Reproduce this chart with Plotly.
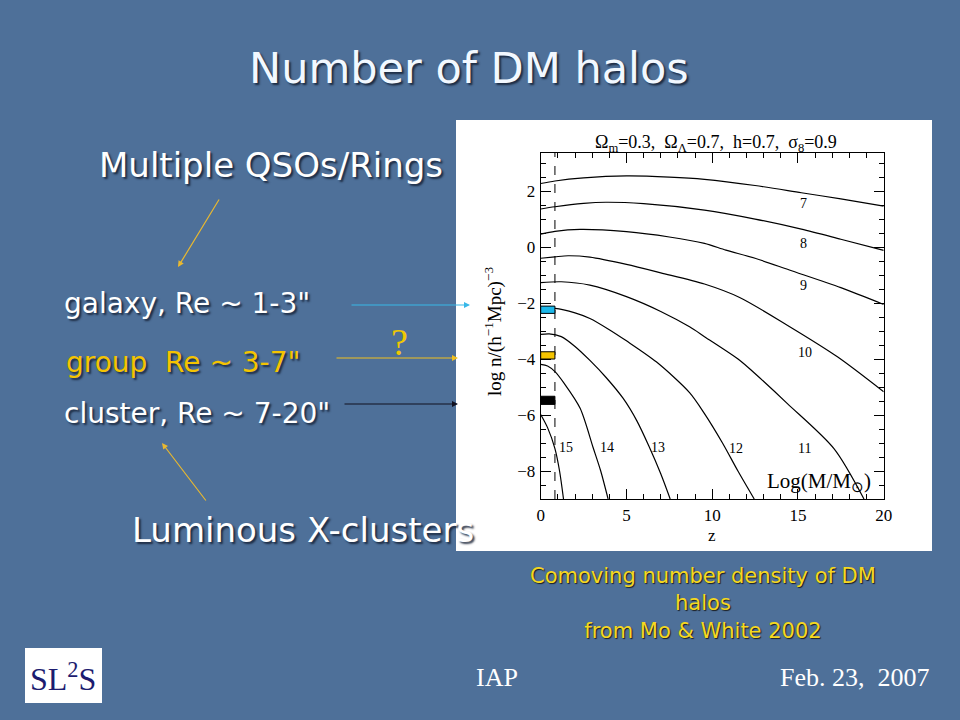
import plotly.graph_objects as go

# ---------------- data ----------------
masses = ["7", "8", "9", "10", "11", "12", "13", "14", "15"]

z_m7 = [0, 0.83, 2.5, 5, 7.5, 9.55, 12.5, 15.2, 17.5, 20]
n_m7 = [2.27, 2.36, 2.47, 2.54, 2.5, 2.42, 2.2, 1.94, 1.72, 1.46]

z_m8 = [0, 0.83, 2.5, 3.8, 6, 9.55, 12.5, 15.2, 17.5, 20]
n_m8 = [1.36, 1.44, 1.56, 1.6, 1.55, 1.32, 1.0, 0.64, 0.28, -0.12]

z_m9 = [0, 0.83, 2.3, 5, 7.5, 9.55, 10.8, 12.5, 14.5, 17.5, 20]
n_m9 = [0.46, 0.56, 0.63, 0.55, 0.36, 0.13, -0.11, -0.4, -0.82, -1.45, -2.05]

z_m10 = [0, 0.83, 1.6, 2.87, 5, 7, 9.55, 11.6, 14.4, 17.3, 20]
n_m10 = [-0.4, -0.35, -0.31, -0.36, -0.62, -0.92, -1.32, -1.8, -2.8, -3.92, -5.17]

z_m11 = [0, 1.2, 2.87, 5, 7, 8.68, 9.55, 11.6, 12.46, 14.4, 17.1, 18.85]
n_m11 = [-1.27, -1.24, -1.36, -1.77, -2.3, -2.85, -3.2, -4.04, -4.5, -5.6, -7.2, -9.0]

z_m12 = [0, 0.83, 2, 2.87, 4, 5, 6.74, 8.68, 9.55, 10.6, 11.5, 12.45]
n_m12 = [-2.2, -2.19, -2.35, -2.55, -2.95, -3.35, -4.1, -5.2, -5.95, -7.0, -8.0, -9.0]

z_m13 = [0, 0.5, 1.2, 2, 2.87, 3.8, 4.8, 5.6, 6.3, 7.0, 7.55]
n_m13 = [-3.12, -3.1, -3.2, -3.55, -4.05, -4.65, -5.4, -6.2, -7.1, -8.1, -9.0]

z_m14 = [0, 0.4, 0.83, 1.37, 2.3, 3.06, 3.5, 3.93]
n_m14 = [-4.19, -4.25, -4.45, -4.87, -5.76, -7.17, -8.0, -9.0]

z_m15 = [0, 0.4, 0.83, 1.1, 1.33]
n_m15 = [-5.98, -6.45, -7.2, -8.0, -9.0]

curve_z = [z_m7, z_m8, z_m9, z_m10, z_m11, z_m12, z_m13, z_m14, z_m15]
curve_n = [n_m7, n_m8, n_m9, n_m10, n_m11, n_m12, n_m13, n_m14, n_m15]

# curve label anchor points (z, log n)
label_z = [15.3, 15.3, 15.3, 15.4, 15.4, 11.4, 6.84, 3.87, 1.45]
label_n = [1.56, 0.13, -1.36, -3.76, -7.2, -7.2, -7.17, -7.17, -7.17]

# observed ranges marked on the axis
box_names = ["galaxy", "group", "cluster"]
box_low = [-2.37, -4.0, -5.62]
box_high = [-2.11, -3.74, -5.33]
box_colors = ["#1cb8ea", "#f5c400", "#000000"]
z_dash = 0.83

x_ticks = [0, 5, 10, 15, 20]
y_ticks = [-8, -6, -4, -2, 0, 2]
y_ticktext = ["\u22128", "\u22126", "\u22124", "\u22122", "0", "2"]

# ---------------- figure ----------------
W, H = 960, 720
def px(x):
    return x / W
def py(y):
    return 1 - y / H

fig = go.Figure()
for zs, ns, m in zip(curve_z, curve_n, masses):
    fig.add_trace(go.Scatter(x=zs, y=ns, mode="lines", name=m,
                             line=dict(color="black", width=1.2, shape="spline", smoothing=0.8),
                             showlegend=False, hoverinfo="skip"))

BG = "#4e7099"
serif = "Liberation Serif"
sans = "DejaVu Sans"

shapes = []
# white picture panel
shapes.append(dict(type="rect", xref="paper", yref="paper", x0=px(456), x1=px(932),
                   y0=py(551), y1=py(120), fillcolor="white", line=dict(width=0), layer="below"))
# logo box
shapes.append(dict(type="rect", xref="paper", yref="paper", x0=px(25), x1=px(102),
                   y0=py(703), y1=py(648), fillcolor="white", line=dict(width=0), layer="below"))
# dashed line
shapes.append(dict(type="line", xref="x", yref="y domain", x0=z_dash, x1=z_dash, y0=0, y1=1,
                   line=dict(color="black", width=1, dash="dash")))
for lo, hi, c in zip(box_low, box_high, box_colors):
    shapes.append(dict(type="rect", xref="x", yref="y", x0=0, x1=z_dash, y0=lo, y1=hi,
                       fillcolor=c, line=dict(color="black", width=1)))

ann = []
shadow = "2px 2px 2px rgba(20,30,50,0.85)"
def slide_text(text, x, y, size, color="white", xanchor="left", family=sans, sh=shadow,
               yanchor="middle", angle=0):
    ann.append(dict(text=text, x=px(x), y=py(y), xref="paper", yref="paper", showarrow=False,
                    xanchor=xanchor, yanchor=yanchor, textangle=angle,
                    font=dict(family=family, size=size, color=color, shadow=sh)))

slide_text("Number of DM halos", 469, 68, 43, color="#f2f8ff", xanchor="center")
slide_text("Multiple QSOs/Rings", 97, 165, 34)
slide_text("galaxy, Re ~ 1-3\"", 62, 303, 28)
slide_text("group&nbsp; Re ~ 3-7\"", 64, 362, 28, color="#f5c400")
slide_text("cluster, Re ~ 7-20\"", 62, 414, 28)
slide_text("Luminous X-clusters", 130, 530, 34)
slide_text("?", 399, 342, 38, color="#f0c800", xanchor="center", family=serif, sh="none")
slide_text("Comoving number density of DM<br>halos<br>from Mo &amp; White 2002", 703, 603, 21,
           color="#f5d820", xanchor="center", family="DejaVu Sans",
           sh="1px 1px 1px rgba(20,20,20,0.9)")
slide_text("IAP", 497, 677, 26, xanchor="center", family=serif, sh="none")
slide_text("Feb. 23,&nbsp; 2007", 932, 677, 26, xanchor="right", family=serif, sh="none")
slide_text("SL<sup>2</sup>S", 63, 677, 32, color="#1c1c70", xanchor="center", family=serif, sh="none")

# chart texts placed in page pixels
slide_text("\u03a9<sub>m</sub>=0.3,&nbsp; \u03a9<sub>\u039b</sub>=0.7,&nbsp; h=0.7,&nbsp; \u03c3<sub>8</sub>=0.9",
           716, 144, 18, color="black", xanchor="center", family=serif, sh="none")
slide_text("log n/(h<sup>\u22121</sup>Mpc)<sup>\u22123</sup>", 494, 331, 19, color="black",
           xanchor="center", family=serif, sh="none", angle=-90)
slide_text("z", 712, 535, 17, color="black", xanchor="center", family=serif, sh="none")

def arrow(hx, hy, tx, ty, color, head=2):
    ann.append(dict(x=px(hx), y=py(hy), xref="paper", yref="paper", text="", showarrow=True,
                    ax=tx - hx, ay=ty - hy, axref="pixel", ayref="pixel",
                    font=dict(size=10, color=color),
                    arrowhead=head, arrowsize=1, arrowwidth=1.2, arrowcolor=color))

arrow(178, 267, 220, 198, "#e8b830")
arrow(162, 443, 207, 502, "#e8b830")
arrow(470, 305, 350, 305, "#38b8e8")
arrow(458, 358, 335, 358, "#f0c020")
arrow(458, 404, 343, 404, "#101020")

# chart labels
for m, lz, ln in zip(masses, label_z, label_n):
    ann.append(dict(text=m, x=lz, y=ln, xref="x", yref="y", showarrow=False,
                    xanchor="center", yanchor="middle",
                    font=dict(family=serif, size=14, color="black")))
ann.append(dict(text="Log(M/M<sub>\u2299</sub>)", x=16.2, y=-8.38, xref="x", yref="y", showarrow=False,
                xanchor="center", yanchor="middle",
                font=dict(family=serif, size=21, color="black")))

axis_common = dict(showline=True, linecolor="black", linewidth=1, mirror="ticks", ticks="inside",
                   ticklen=10, tickwidth=1, tickcolor="black", showgrid=False, zeroline=False,
                   automargin=False,
                   tickfont=dict(family=serif, size=17, color="black"), ticklabelstandoff=1)

fig.update_layout(
    width=W, height=H, autosize=False, margin=dict(l=0, r=0, t=0, b=0, pad=0),
    paper_bgcolor=BG, plot_bgcolor="white",
    xaxis=dict(domain=[px(540.7), px(883.7)], range=[0, 20], tickvals=x_ticks,
               minor=dict(dtick=1, ticklen=5, ticks="inside", tickcolor="black", showgrid=False),
               **axis_common),
    yaxis=dict(domain=[py(499), py(153)], range=[-9, 3.36], tickvals=y_ticks, ticktext=y_ticktext,
               minor=dict(dtick=0.5, ticklen=5, ticks="inside", tickcolor="black", showgrid=False),
               **axis_common),
    shapes=shapes, annotations=ann,
)

page_fix = ("document.documentElement.style.margin='0';document.body.style.margin='0';"
            "document.body.style.padding='0';document.body.style.overflow='hidden';"
            "document.body.style.background='" + BG + "';"
            "var gd=document.getElementById('{plot_id}');"
            "Plotly.relayout(gd,{autosize:false,width:" + str(W) + ",height:" + str(H) + "});")
fig.write_html("out.html", post_script=page_fix,
               config={"displayModeBar": False, "responsive": False})
